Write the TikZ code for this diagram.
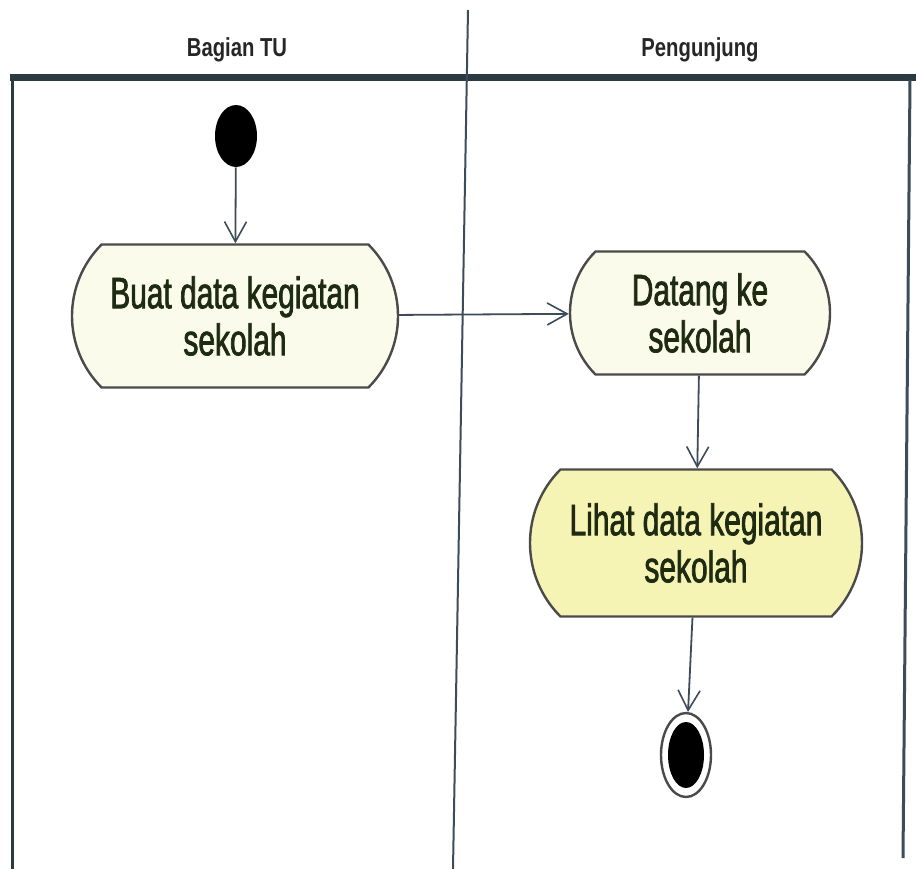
\documentclass[tikz,border=0pt]{standalone}
\usepackage{fontspec}
\usepackage{tikz}
\usetikzlibrary{arrows.meta,shapes.misc,shapes.geometric}

\newfontfamily\actfont[FakeStretch=0.68,FakeBold=1.6]{Liberation Sans}
\newfontfamily\lanefont[FakeStretch=0.78]{Liberation Sans}
\definecolor{frameline}{HTML}{2C3A42}
\definecolor{flowline}{HTML}{3E4C5A}
\definecolor{actborder}{HTML}{4A4A48}
\definecolor{actpale}{HTML}{FBFBEC}
\definecolor{actyellow}{HTML}{F6F4B4}
\definecolor{acttext}{HTML}{1E2A12}

\begin{document}
\begin{tikzpicture}[x=1pt,y=-1pt,>={Straight Barb[length=20pt,width=22pt,line width=1.6pt]},
                    semithick]
  \tikzstyle{action}=[rounded rectangle,rounded rectangle arc length=90,draw=actborder,
                      line width=2.4pt,fill=actpale,text=acttext,align=center,
                      font=\actfont\fontsize{44}{47}\selectfont,inner sep=0pt]
  \tikzstyle{flow}=[->,draw=flowline,line width=1.8pt]
  \tikzstyle{lane}=[font=\lanefont\bfseries\fontsize{26}{28}\selectfont,text=black!85]

  \useasboundingbox[fill=white] (0,0) rectangle (916,869);

  % swimlane frame
  \draw[frameline,line width=7pt] (10,78) -- (916,78);
  \draw[frameline,line width=3pt] (12,75) -- (12,869);
  \draw[flowline,line width=2pt] (468,10) -- (453,869);
  \draw[flowline,line width=3pt] (910,80) -- (903,858);

  \node[lane] (laneTU)   at (237,50) {Bagian TU};
  \node[lane] (laneVisit) at (700,50) {Pengunjung};

  \node[ellipse,fill=black,minimum width=42pt,minimum height=62pt,inner sep=0pt] (start) at (236,136) {};
  \node[action,minimum width=326pt,minimum height=143pt] (buat) at (235,316) {Buat data kegiatan\\sekolah};
  \node[action,minimum width=260pt,minimum height=123pt] (datang) at (700,313) {Datang ke\\sekolah};
  \node[action,fill=actyellow,minimum width=332pt,minimum height=147pt] (lihat) at (696,543) {Lihat data kegiatan\\sekolah};
  \node[ellipse,draw=actborder,line width=2.4pt,fill=white,minimum width=50pt,minimum height=84pt,inner sep=0pt] (finish) at (686,755) {};
  \node[ellipse,fill=black,minimum width=36pt,minimum height=66pt,inner sep=0pt] (finishdot) at (finish) {};

  \draw[flow] (start) -- (buat);
  \draw[flow] (buat) -- (datang);
  \draw[flow] (datang) -- (lihat);
  \draw[flow] (lihat) -- (finish);

\end{tikzpicture}
\end{document}
